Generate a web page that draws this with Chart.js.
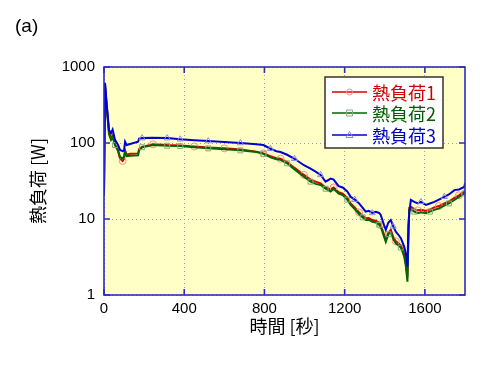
<!DOCTYPE html>
<html><head><meta charset="utf-8">
<script src="https://cdn.jsdelivr.net/npm/chart.js@4/dist/chart.umd.min.js"></script>
<style>html,body{margin:0;padding:0;background:#fff;}#wrap{width:500px;height:369px;position:relative;}</style>
</head><body><div id="wrap"><canvas id="c" width="500" height="369"></canvas></div>
<script>
const times = [0,5,13,25,35,43,55,70,80,93,100,105,113,130,170,175,190,245,315,380,450,520,600,680,760,795,830,860,880,913,950,997,1030,1055,1080,1105,1130,1145,1170,1190,1213,1230,1250,1272,1290,1305,1320,1338,1355,1372,1380,1395,1405,1418,1430,1442,1455,1468,1480,1490,1497,1505,1513,1518,1522,1530,1547,1565,1580,1605,1625,1647,1670,1697,1720,1747,1770,1797,1800];
const load1 = [21,600,320,140,115,125,95,78,62,58,62,80,70,72,73,83,89,96,94,93,90,87,85,82,77,73,67,63,62,56,47,38,33,31,29.5,26,24.5,26,22.5,21.5,19,16,14.2,12.2,11,10.2,10.3,9.7,9.5,8.9,8.3,6.4,5.3,6.6,7.2,5.8,5.1,4.8,4.5,3.9,3.4,2.6,1.7,7,14,14.5,13.5,13,13.2,12.8,13.4,14.2,14.8,16,17,19,20.5,23,24.5];
const load2 = [20,560,300,130,110,120,94,81,65,63,66,77,67,68,69,80,88,94,92,91,88,85,83,80,76,72,65,61,60,54,45,36,31,29,28,25,23,25,21.5,20.7,18,15.3,13.5,11.5,10.5,9.7,9.8,9.2,9.0,8.4,7.9,6,5.0,6.3,6.8,5.5,4.8,4.5,4.2,3.6,3.2,2.4,1.5,6,13,13.5,12.5,12,12.3,11.9,12.5,13.2,13.8,15,16,17.8,19.5,21.7,23];
const load3 = [22,620,340,148,135,150,110,94,81,78,80,104,94,97,104,114,116,117,116,112,109,106,103,100,96,94,84,78,76,70,62,51,46,42,38,31,34,33,27,26,23,19.6,18,16,14,12.5,12.8,12,12.4,12,11.3,8.5,7.2,9,9.7,8,6.8,6.2,5.6,4.8,4.3,3.5,2.36,8,12,17.8,16.8,16,16.8,15.3,16,16.8,18,19.6,21,24,24.5,26.5,29.6];
const marks1 = [9,17,20,22,25,28,31,37,43,50,56,67,72,76];
const marks2 = [6,16,18,19,21,23,25,29,32,35,40,44,49,53,58,66,70,74,77];
const marks3 = [16,18,19,21,23,26,30,34,42,47,55,68,73];
const seriesNames = ['熱負荷1','熱負荷2','熱負荷3'];
const xTicks = [0,400,800,1200,1600];
const yTicks = [1,10,100,1000];

const lineCols = ['#dd0000','#006600','#0000d2'];
const markCols = ['#f09090','#7fae7f','#8a8ae6'];
const textCols = ['#d00000','#006000','#0000c0'];
const styles = ['circle','rect','triangle'];
const CJK = '"Noto Sans CJK JP","Noto Sans",sans-serif';
const NUM = '"Liberation Sans",Arial,sans-serif';

function mk(vals, i, marks, order){
  return {
    label: seriesNames[i],
    data: times.map((t,k)=>({x:t,y:vals[k]})),
    borderColor: lineCols[i], borderWidth: 2, tension: 0,
    pointStyle: styles[i],
    pointRadius: ctx => marks.includes(ctx.dataIndex) ? 3.5 : 0,
    pointBorderColor: markCols[i], pointBackgroundColor: 'rgba(0,0,0,0)', pointBorderWidth: 1,
    order: order
  };
}

const deco = {
  id:'deco',
  beforeDraw(chart){
    const {ctx, chartArea:a} = chart;
    ctx.save();
    ctx.fillStyle='#fff'; ctx.fillRect(0,0,chart.width,chart.height);
    ctx.fillStyle='#ffffc6'; ctx.fillRect(a.left,a.top,a.right-a.left,a.bottom-a.top);
    ctx.restore();
  },
  afterDatasetsDraw(chart){
    const {ctx, chartArea:a, scales:{x,y}} = chart;
    ctx.save();
    ctx.strokeStyle='#2b2bc8'; ctx.lineWidth=1.6;
    ctx.strokeRect(a.left,a.top,a.right-a.left,a.bottom-a.top);
    ctx.beginPath();
    xTicks.forEach(v=>{const p=x.getPixelForValue(v); ctx.moveTo(p,a.bottom); ctx.lineTo(p,a.bottom-6); ctx.moveTo(p,a.top); ctx.lineTo(p,a.top+6);});
    yTicks.forEach(v=>{const p=y.getPixelForValue(v); ctx.moveTo(a.left,p); ctx.lineTo(a.left+6,p); ctx.moveTo(a.right,p); ctx.lineTo(a.right-6,p);});
    ctx.stroke();
    // legend
    const bx=325, by=77, bw=118, bh=71;
    ctx.fillStyle='#fff'; ctx.fillRect(bx,by,bw,bh);
    ctx.strokeStyle='#333'; ctx.lineWidth=1.5; ctx.strokeRect(bx,by,bw,bh);
    const rows=[92,113,135];
    rows.forEach((ry,i)=>{
      ctx.strokeStyle=lineCols[i]; ctx.lineWidth=1.5;
      ctx.beginPath(); ctx.moveTo(332,ry); ctx.lineTo(367,ry); ctx.stroke();
      ctx.strokeStyle=markCols[i]; ctx.lineWidth=1;
      ctx.beginPath();
      if(i===0){ ctx.arc(349.5,ry,3,0,Math.PI*2); }
      else if(i===1){ ctx.rect(346.5,ry-3,6,6); }
      else { ctx.moveTo(349.5,ry-3.5); ctx.lineTo(353,ry+2.5); ctx.lineTo(346,ry+2.5); ctx.closePath(); }
      ctx.stroke();
      ctx.fillStyle=textCols[i]; ctx.font='18px '+CJK; ctx.textBaseline='middle'; ctx.textAlign='left';
      ctx.fillText(seriesNames[i],372,ry+1);
    });
    ctx.fillStyle='#000'; ctx.font='19px '+NUM; ctx.textBaseline='middle';
    ctx.fillText('(a)',15,27);
    ctx.restore();
  }
};

new Chart(document.getElementById('c'),{
  type:'line',
  data:{datasets:[mk(load1,0,marks1,3), mk(load2,1,marks2,2), mk(load3,2,marks3,1)]},
  options:{
    responsive:false, animation:false, devicePixelRatio:1,
    layout:{padding:{left:0,right:35,top:67,bottom:0}},
    plugins:{legend:{display:false}, tooltip:{enabled:false}},
    scales:{
      x:{type:'linear', min:0, max:1800,
        afterBuildTicks: s=>{ s.ticks = xTicks.map(v=>({value:v})); },
        afterFit: s=>{ s.height=74; },
        ticks:{autoSkip:false, maxRotation:0, padding:5, color:'#000', font:{family:NUM, size:15}, callback:v=>String(v)},
        grid:{color:'#a0a0a0', lineWidth:1, drawTicks:false},
        border:{display:false, dash:[1,3]},
        title:{display:true, text:'時間 [秒]', color:'#000', font:{family:CJK, size:18}, padding:{top:0,bottom:32}}
      },
      y:{type:'logarithmic', min:1, max:1000,
        afterBuildTicks: s=>{ s.ticks = yTicks.map(v=>({value:v})); },
        afterFit: s=>{ s.width=104; },
        ticks:{padding:9, color:'#000', font:{family:NUM, size:15}, callback:v=>String(v)},
        grid:{color:'#a0a0a0', lineWidth:1, drawTicks:false},
        border:{display:false, dash:[1,3]},
        title:{display:true, text:'熱負荷 [W]', color:'#000', font:{family:CJK, size:18}, padding:{top:27,bottom:0}}
      }
    }
  },
  plugins:[deco]
});
</script></body></html>
